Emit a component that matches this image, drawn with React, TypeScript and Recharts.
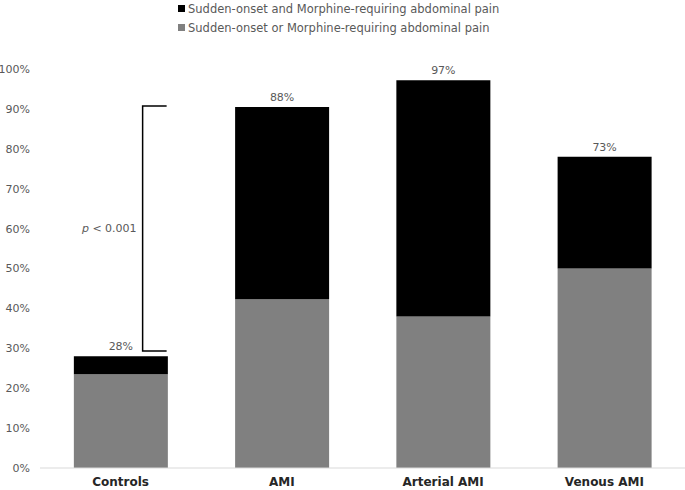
import { ComposedChart, Bar, XAxis, YAxis, Legend, LabelList, ReferenceLine } from "recharts";

const categories = ["Controls", "AMI", "Arterial AMI", "Venous AMI"];
// gray part: sudden-onset OR morphine-requiring
const eitherPain = [23.5, 42.3, 38, 50];
// black part stacked on top: sudden-onset AND morphine-requiring
const bothPain = [4.5, 48.2, 59.2, 28];
const totalLabels = ["28%", "88%", "97%", "73%"];
const yTicks = [0, 10, 20, 30, 40, 50, 60, 70, 80, 90, 100];

// bracket next to the Controls bar, y in %
const bracketY = [29.3, 90.7];
const pText = "< 0.001";

const FONT = "'DejaVu Sans', sans-serif";
const GRAY_TEXT = "#595959";

const data = categories.map((c, i) => ({ name: c, either: eitherPain[i], both: bothPain[i], label: totalLabels[i] }));

const legendItems = [
  { label: "Sudden-onset and Morphine-requiring abdominal pain", color: "#000000" },
  { label: "Sudden-onset or Morphine-requiring abdominal pain", color: "#808080" },
];

function LegendBox() {
  return (
    <div style={{ fontFamily: FONT, fontSize: 11.5, color: GRAY_TEXT }}>
      {legendItems.map((it) => (
        <div key={it.label} style={{ display: "flex", alignItems: "center", height: 19 }}>
          <span style={{ width: 7, height: 7, background: it.color, marginRight: 3, display: "inline-block" }} />
          {it.label}
        </div>
      ))}
    </div>
  );
}

// bracket drawn relative to the centre of the Controls band
const Bracket = (props: any) => {
  const { x1, y1, y2 } = props;
  const xv = x1 + 22;
  const xe = x1 + 46;
  const top = Math.min(y1, y2);
  const bot = Math.max(y1, y2);
  return (
    <g>
      <path d={`M${xe},${top} H${xv} V${bot} H${xe}`} fill="none" stroke="#000" strokeWidth={1.5} />
      <text x={xv - 6} y={(top + bot) / 2} textAnchor="end" dominantBaseline="middle" fontFamily={FONT} fontSize={11} fill={GRAY_TEXT}>
        <tspan fontStyle="italic">p</tspan> {pText}
      </text>
    </g>
  );
};

export default function App() {
  return (
    <div style={{ position: "absolute", left: 0, top: 0, width: 685, height: 490, background: "#fff" }}>
      <ComposedChart width={685} height={490} data={data} margin={{ top: 69, right: 0, bottom: 0, left: 0 }} barCategoryGap="21%">
        <XAxis
          dataKey="name"
          axisLine={{ stroke: "#d9d9d9" }}
          tickLine={false}
          tickSize={0}
          tickMargin={9}
          height={22}
          tick={{ fontFamily: FONT, fontSize: 12, fontWeight: "bold", fill: "#262626" }}
        />
        <YAxis
          domain={[0, 100]}
          ticks={yTicks}
          width={40}
          axisLine={false}
          tickLine={false}
          tickSize={0}
          tickMargin={10}
          tickFormatter={(v) => `${v}%`}
          tick={{ fontFamily: FONT, fontSize: 11, fill: GRAY_TEXT }}
        />
        <Legend layout="vertical" align="center" verticalAlign="middle" wrapperStyle={{ top: -1, left: 178, width: 400 }} content={() => <LegendBox />} />
        <Bar dataKey="either" stackId="a" fill="#808080" isAnimationActive={false} />
        <Bar dataKey="both" stackId="a" fill="#000000" isAnimationActive={false}>
          <LabelList dataKey="label" position="top" offset={6} style={{ fontFamily: FONT, fontSize: 11, fill: GRAY_TEXT }} />
        </Bar>
        <ReferenceLine
          segment={[{ x: categories[0], y: bracketY[0] }, { x: categories[0], y: bracketY[1] }]}
          shape={Bracket}
        />
      </ComposedChart>
    </div>
  );
}
